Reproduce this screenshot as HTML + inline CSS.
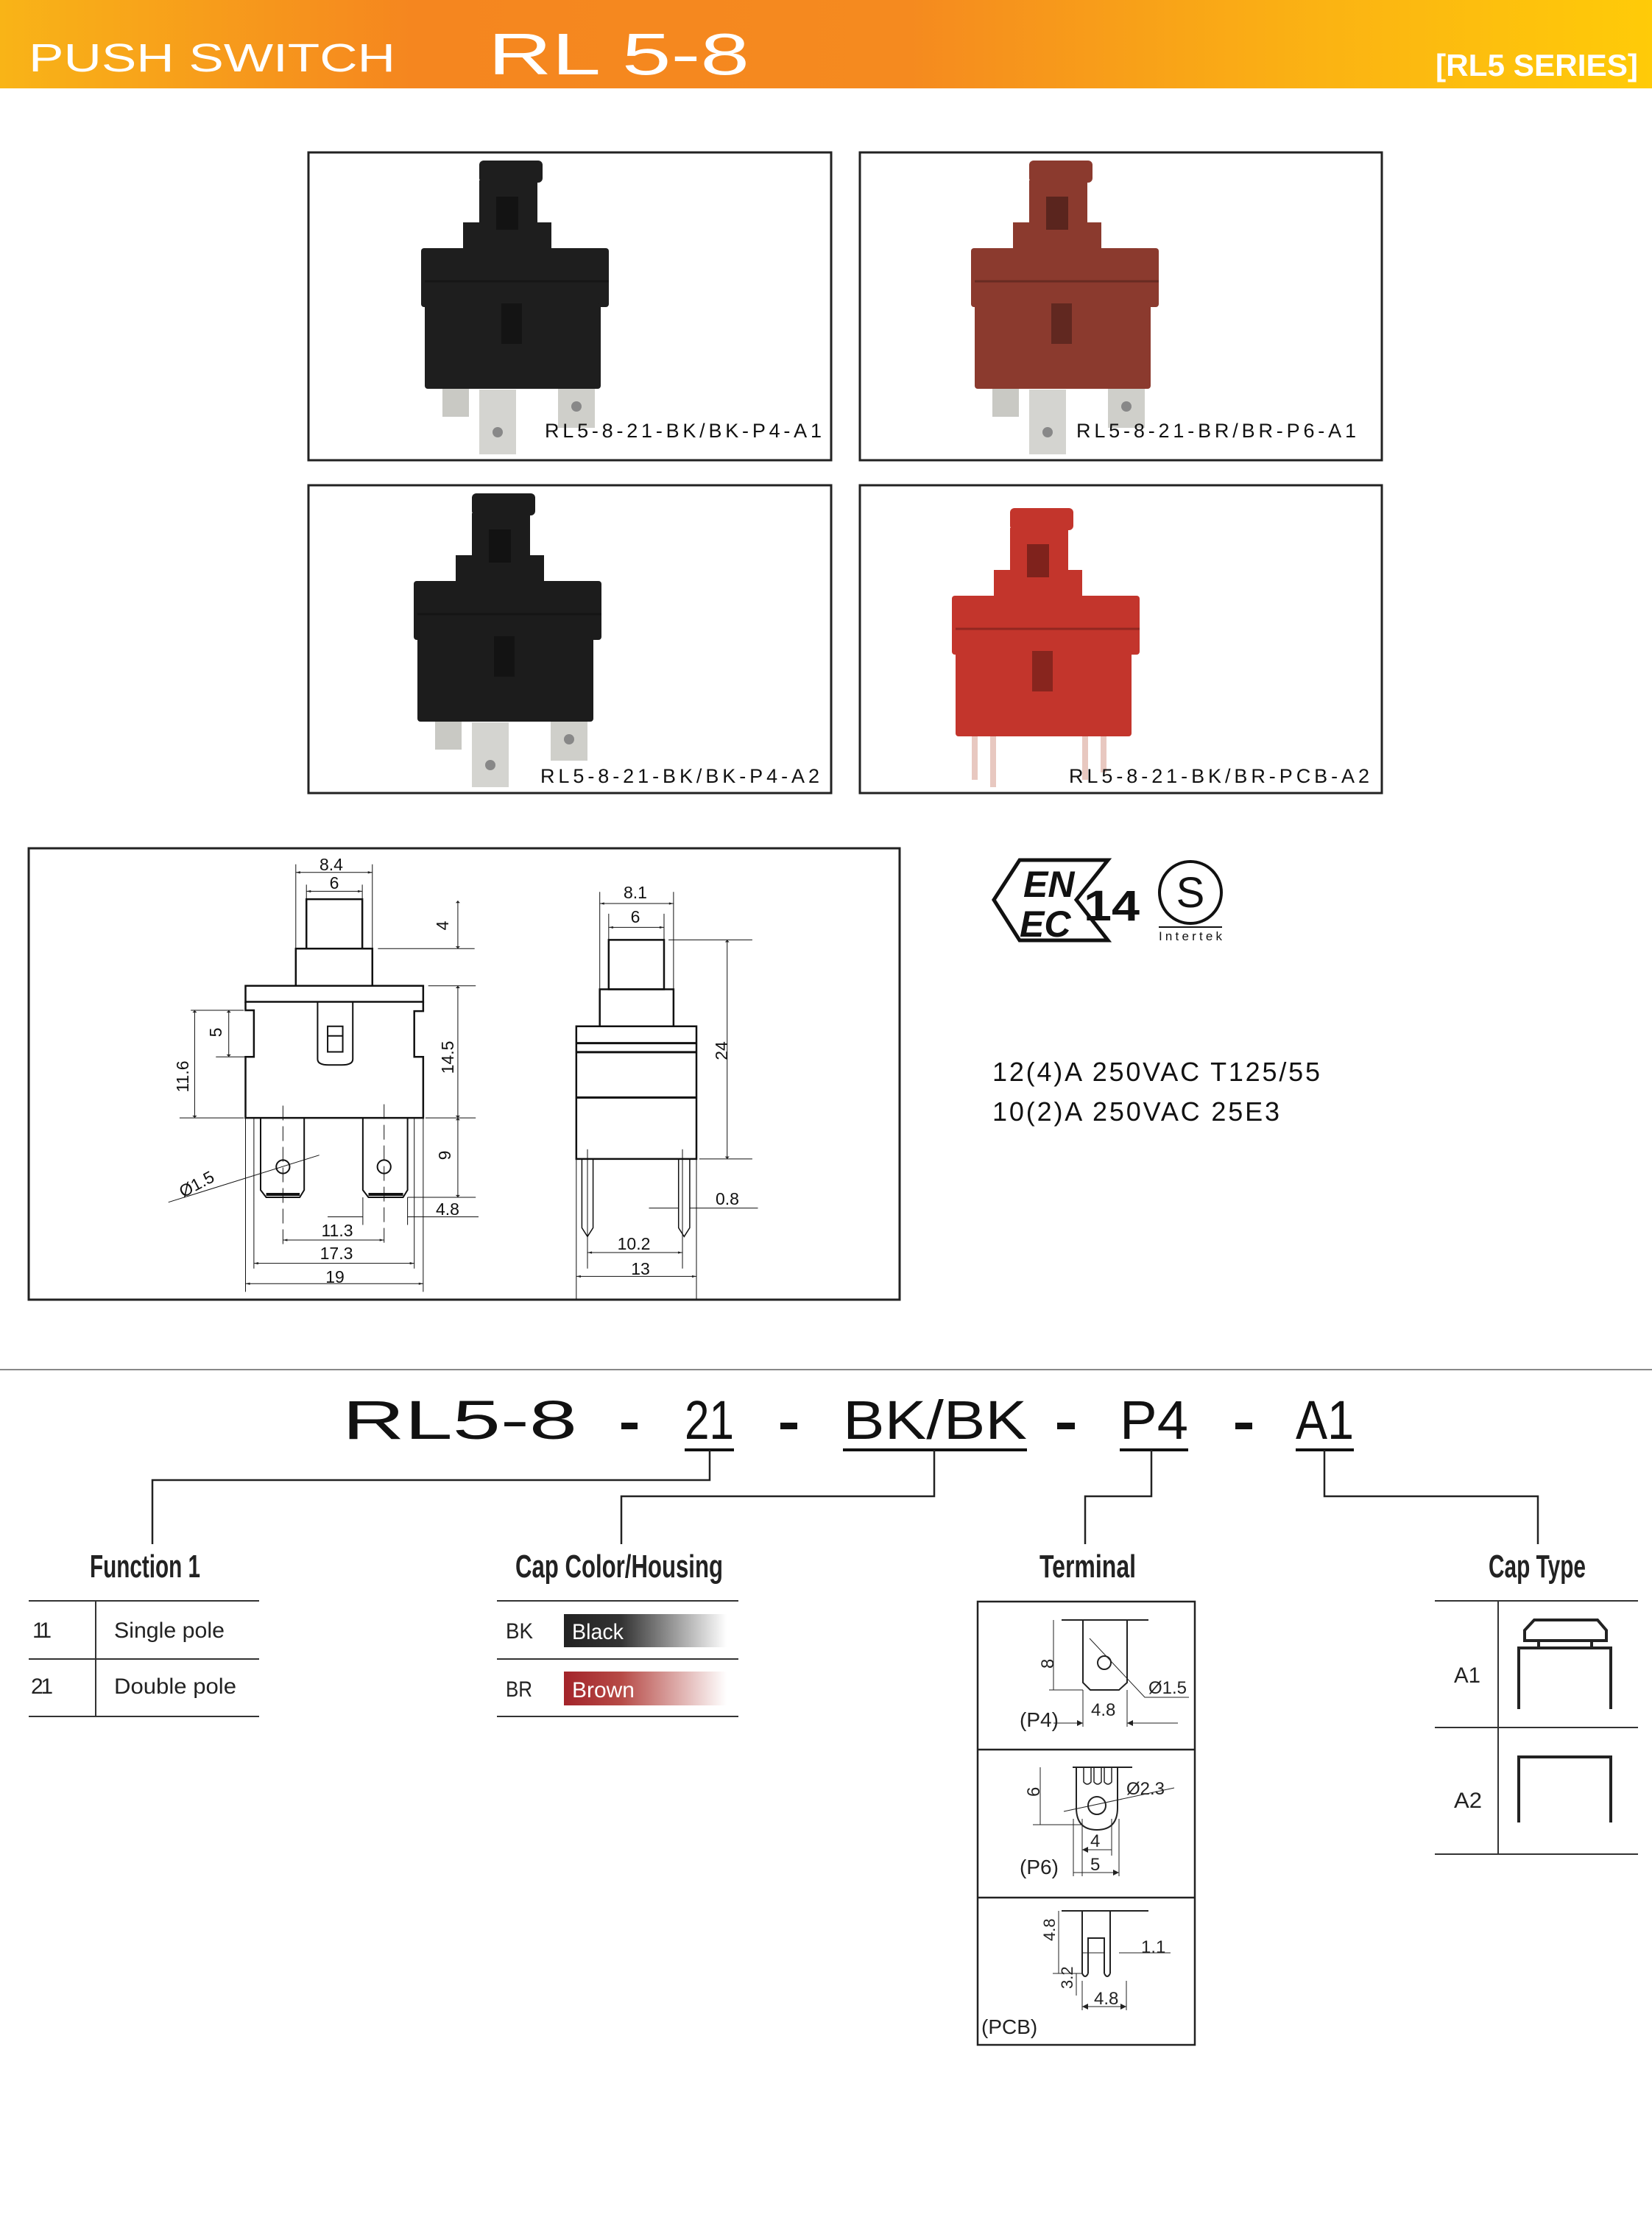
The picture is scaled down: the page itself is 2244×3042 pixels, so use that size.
<!DOCTYPE html>
<html><head><meta charset="utf-8"><style>
html,body{margin:0;padding:0;background:#fff}
svg{display:block}
text{font-family:"Liberation Sans",sans-serif}
.n{font-family:"Liberation Sans Narrow","Liberation Sans",sans-serif}
</style></head><body>
<svg width="2244" height="3042" viewBox="0 0 2244 3042" xmlns="http://www.w3.org/2000/svg">
<defs>
<linearGradient id="hg" x1="0" x2="1" y1="0" y2="0">
<stop offset="0" stop-color="#f9b417"/><stop offset="0.25" stop-color="#f5861f"/><stop offset="0.55" stop-color="#f58a1f"/><stop offset="0.8" stop-color="#fbb313"/><stop offset="1" stop-color="#ffcb08"/>
</linearGradient>
<linearGradient id="bk" x1="0" x2="1"><stop offset="0" stop-color="#222"/><stop offset="0.35" stop-color="#333"/><stop offset="1" stop-color="#fff"/></linearGradient>
<linearGradient id="br" x1="0" x2="1"><stop offset="0" stop-color="#a3242a"/><stop offset="0.35" stop-color="#b64a46"/><stop offset="1" stop-color="#fff"/></linearGradient>
<marker id="ar" viewBox="0 0 10 10" refX="10" refY="5" markerWidth="14" markerHeight="8" orient="auto-start-reverse" markerUnits="userSpaceOnUse"><path d="M0,0 L10,5 L0,10 z" fill="#222"/></marker>
<g id="sw">
 <rect x="232" y="11" width="86" height="30" rx="6"/>
 <rect x="232" y="38" width="79" height="92"/>
 <rect x="210" y="95" width="120" height="40"/>
 <rect x="153" y="130" width="255" height="80" rx="4"/>
 <rect x="158" y="205" width="239" height="116" rx="4"/>
 <rect x="255" y="60" width="30" height="45" fill="#000" opacity="0.35"/>
 <rect x="262" y="205" width="28" height="55" fill="#000" opacity="0.3"/>
 <line x1="158" y1="175" x2="408" y2="175" stroke="#000" stroke-opacity="0.25" stroke-width="3"/>
</g>
<g id="term">
 <rect x="182" y="305" width="36" height="54" fill="#c9c9c4"/>
 <rect x="232" y="322" width="50" height="88" fill="#d4d4d0"/>
 <rect x="339" y="298" width="50" height="76" fill="#cfcfca"/>
 <circle cx="257" cy="380" r="7" fill="#888"/>
 <circle cx="364" cy="345" r="7" fill="#888"/>
</g>
</defs>

<!-- header -->
<rect x="0" y="0" width="2244" height="120" fill="url(#hg)"/>
<text x="39" y="97" font-size="54" fill="#fff" textLength="498" lengthAdjust="spacingAndGlyphs">PUSH SWITCH</text>
<text x="663" y="101" font-size="80" fill="#fff" textLength="355" lengthAdjust="spacingAndGlyphs">RL 5-8</text>
<text x="1950" y="103" font-size="42" font-weight="bold" fill="#fff" class="n" textLength="275" lengthAdjust="spacingAndGlyphs">[RL5 SERIES]</text>

<!-- photo boxes -->
<g fill="none" stroke="#222" stroke-width="3">
<rect x="419" y="207" width="710" height="418"/>
<rect x="1168" y="207" width="709" height="418"/>
<rect x="419" y="659" width="710" height="418"/>
<rect x="1168" y="659" width="709" height="418"/>
</g>
<g transform="translate(419,207)"><use href="#term"/><use href="#sw" fill="#1e1e1e"/></g>
<g transform="translate(1385,207) translate(-219,0)"><use href="#term"/><use href="#sw" fill="#8b3a2e"/></g>
<g transform="translate(419,659) translate(-10,0)"><use href="#term"/><use href="#sw" fill="#1c1c1c"/></g>
<g transform="translate(1168,679) translate(-28,0)">
 <rect x="180" y="300" width="8" height="80" fill="#e8c8c0"/><rect x="205" y="300" width="8" height="90" fill="#e8c8c0"/>
 <rect x="330" y="300" width="8" height="80" fill="#e8c8c0"/><rect x="355" y="300" width="8" height="70" fill="#e8c8c0"/>
 <use href="#sw" fill="#c3352c"/></g>
<g font-size="27" fill="#111" class="n">
<text x="740" y="594" textLength="376" lengthAdjust="spacing">RL5-8-21-BK/BK-P4-A1</text>
<text x="1462" y="594" textLength="380" lengthAdjust="spacing">RL5-8-21-BR/BR-P6-A1</text>
<text x="734" y="1063" textLength="379" lengthAdjust="spacing">RL5-8-21-BK/BK-P4-A2</text>
<text x="1452" y="1063" textLength="408" lengthAdjust="spacing">RL5-8-21-BK/BR-PCB-A2</text>
</g>

<!-- drawing box -->
<rect x="39" y="1152" width="1183" height="613" fill="none" stroke="#222" stroke-width="3"/>
<g transform="translate(39,1150) scale(0.759,0.395)" fill="none" stroke="#111">
 <g stroke-width="4" vector-effect="non-scaling-stroke">
 <rect x="497" y="180" width="100" height="170" vector-effect="non-scaling-stroke" stroke-width="2.5"/>
 <rect x="478" y="350" width="137" height="128" vector-effect="non-scaling-stroke" stroke-width="2.5"/>
 <rect x="388" y="478" width="318" height="55" vector-effect="non-scaling-stroke" stroke-width="2.5"/>
 <path d="M388,533 V562 H403 V722 H388 V932 H706 V722 H690 V565 H706 V533" vector-effect="non-scaling-stroke" stroke-width="2.5"/>
 <path d="M517,533 V730 Q517,750 537,750 H560 Q580,750 580,730 V533" vector-effect="non-scaling-stroke" stroke-width="2"/>
 <rect x="535" y="617" width="27" height="88" vector-effect="non-scaling-stroke" stroke-width="2"/>
 <line x1="535" y1="650" x2="562" y2="650" vector-effect="non-scaling-stroke" stroke-width="2"/>
 <path d="M415,932 V1180 L425,1205 H485 L493,1180 V932" vector-effect="non-scaling-stroke" stroke-width="2"/>
 <path d="M598,932 V1180 L608,1205 H670 L678,1180 V932" vector-effect="non-scaling-stroke" stroke-width="2"/>
 <line x1="425" y1="1195" x2="485" y2="1195" vector-effect="non-scaling-stroke" stroke-width="4"/>
 <line x1="608" y1="1195" x2="670" y2="1195" vector-effect="non-scaling-stroke" stroke-width="4"/>
 <ellipse cx="455" cy="1100" rx="12" ry="23" vector-effect="non-scaling-stroke" stroke-width="2"/>
 <ellipse cx="636" cy="1100" rx="12" ry="23" vector-effect="non-scaling-stroke" stroke-width="2"/>
 <rect x="1038" y="320" width="99" height="170" vector-effect="non-scaling-stroke" stroke-width="2.5"/>
 <rect x="1022" y="490" width="132" height="127" vector-effect="non-scaling-stroke" stroke-width="2.5"/>
 <rect x="980" y="617" width="215" height="456" vector-effect="non-scaling-stroke" stroke-width="2.5"/>
 <path d="M980,675 H1195 M980,706 H1195 M980,862 H1195" vector-effect="non-scaling-stroke" stroke-width="3"/>
 <path d="M990,1073 V1310 L1000,1340 L1010,1310 V1073 M1163,1073 V1310 L1173,1340 L1183,1310 V1073" vector-effect="non-scaling-stroke" stroke-width="1.5"/>
 </g>
 <g stroke-width="1" vector-effect="non-scaling-stroke">
 <path d="M455,890 V1370 M636,885 V1370" stroke-dasharray="20 8" vector-effect="non-scaling-stroke"/>
 <path d="M478,60 V350 M615,60 V350 M497,130 V180 M597,130 V180 M625,350 H798 M715,478 H800 M710,932 H800 M678,1205 H800 M290,562 H385 M335,722 H400 M270,932 H385 M388,932 V1530 M706,932 V1530 M403,932 V1450 M690,932 V1450 M598,1205 V1300 M678,1205 V1300 M1022,155 V490 M1154,155 V490 M1038,230 V320 M1137,230 V320 M1145,320 H1295 M1200,1073 H1295 M980,1073 V1555 M1195,1073 V1555 M1000,1040 V1450 M1170,1040 V1450 M1000,1340 V1450 M250,1222 L520,1060" vector-effect="non-scaling-stroke"/>
 <g marker-start="url(#ar)" marker-end="url(#ar)">
 <line x1="478" y1="88" x2="615" y2="88" vector-effect="non-scaling-stroke"/>
 <line x1="497" y1="153" x2="597" y2="153" vector-effect="non-scaling-stroke"/>
 <line x1="768" y1="185" x2="768" y2="350" vector-effect="non-scaling-stroke"/>
 <line x1="768" y1="478" x2="768" y2="932" vector-effect="non-scaling-stroke"/>
 <line x1="768" y1="932" x2="768" y2="1205" vector-effect="non-scaling-stroke"/>
 <line x1="297" y1="562" x2="297" y2="932" vector-effect="non-scaling-stroke"/>
 <line x1="358" y1="562" x2="358" y2="722" vector-effect="non-scaling-stroke"/>
 <line x1="455" y1="1352" x2="636" y2="1352" vector-effect="non-scaling-stroke"/>
 <line x1="403" y1="1432" x2="690" y2="1432" vector-effect="non-scaling-stroke"/>
 <line x1="388" y1="1502" x2="706" y2="1502" vector-effect="non-scaling-stroke"/>
 <line x1="1022" y1="195" x2="1154" y2="195" vector-effect="non-scaling-stroke"/>
 <line x1="1038" y1="277" x2="1137" y2="277" vector-effect="non-scaling-stroke"/>
 <line x1="1250" y1="320" x2="1250" y2="1073" vector-effect="non-scaling-stroke"/>
 <line x1="1000" y1="1395" x2="1170" y2="1395" vector-effect="non-scaling-stroke"/>
 <line x1="980" y1="1477" x2="1195" y2="1477" vector-effect="non-scaling-stroke"/>
 </g>
 <path d="M535,1272 H598 M678,1272 H805 M1110,1242 H1163 M1183,1242 H1305" vector-effect="non-scaling-stroke"/>
 </g>
</g>
<g font-size="23" fill="#111" text-anchor="middle" dominant-baseline="central" class="n">
<text x="450" y="1174">8.4</text><text x="454" y="1199">6</text>
<text x="601" y="1257" transform="rotate(-90 601 1257)">4</text>
<text x="293" y="1402" transform="rotate(-90 293 1402)">5</text>
<text x="248" y="1462" transform="rotate(-90 248 1462)">11.6</text>
<text x="608" y="1436" transform="rotate(-90 608 1436)">14.5</text>
<text x="604" y="1569" transform="rotate(-90 604 1569)">9</text>
<text x="267" y="1608" transform="rotate(-28 267 1608)">Ø1.5</text>
<text x="608" y="1642">4.8</text><text x="458" y="1671">11.3</text><text x="457" y="1702">17.3</text><text x="455" y="1734">19</text>
<text x="863" y="1212">8.1</text><text x="863" y="1245">6</text>
<text x="980" y="1427" transform="rotate(-90 980 1427)">24</text>
<text x="988" y="1628">0.8</text><text x="861" y="1689">10.2</text><text x="870" y="1723">13</text>
</g>

<!-- cert logos -->
<polygon points="1385,1168 1505,1168 1462,1222 1505,1277 1385,1277 1350,1222" fill="none" stroke="#111" stroke-width="5"/>
<text x="1390" y="1218" font-size="50" font-weight="bold" font-style="italic" fill="#111">EN</text>
<text x="1385" y="1272" font-size="50" font-weight="bold" font-style="italic" fill="#111">EC</text>
<text x="1472" y="1250" font-size="58" font-weight="bold" fill="#111" textLength="76" lengthAdjust="spacingAndGlyphs">14</text>
<circle cx="1617" cy="1212" r="42" fill="none" stroke="#111" stroke-width="4"/>
<text x="1617" y="1232" font-size="58" text-anchor="middle" fill="#111">S</text>
<line x1="1574" y1="1259" x2="1660" y2="1259" stroke="#111" stroke-width="2"/>
<text x="1574" y="1277" font-size="17" fill="#111" textLength="86" lengthAdjust="spacing">Intertek</text>
<text x="1348" y="1468" font-size="36" fill="#111" textLength="445" lengthAdjust="spacing">12(4)A  250VAC  T125/55</text>
<text x="1348" y="1522" font-size="36" fill="#111" textLength="390" lengthAdjust="spacing">10(2)A  250VAC  25E3</text>

<!-- divider -->
<line x1="0" y1="1860" x2="2244" y2="1860" stroke="#888" stroke-width="2"/>

<!-- code line -->
<g fill="#111">
<text x="465" y="1954" font-size="74" textLength="319" lengthAdjust="spacingAndGlyphs">RL5-8</text>
<text x="930" y="1954" font-size="74" textLength="67" lengthAdjust="spacingAndGlyphs">21</text>
<text x="1145" y="1954" font-size="74" textLength="250" lengthAdjust="spacingAndGlyphs">BK/BK</text>
<text x="1521" y="1954" font-size="74" textLength="93" lengthAdjust="spacingAndGlyphs">P4</text>
<text x="1760" y="1954" font-size="74" textLength="79" lengthAdjust="spacingAndGlyphs">A1</text>
<rect x="844" y="1932" width="22" height="9"/><rect x="1060" y="1932" width="23" height="9"/>
<rect x="1436" y="1932" width="24" height="9"/><rect x="1678" y="1932" width="23" height="9"/>
<rect x="930" y="1967" width="67" height="4"/><rect x="1145" y="1967" width="250" height="4"/>
<rect x="1521" y="1967" width="93" height="4"/><rect x="1760" y="1967" width="79" height="4"/>
</g>
<g fill="none" stroke="#222" stroke-width="2.5">
<path d="M964,1969 V2010 H207 V2097"/>
<path d="M1269,1969 V2032 H844 V2097"/>
<path d="M1564,1969 V2032 H1474 V2097"/>
<path d="M1799,1969 V2032 H2089 V2097"/>
</g>

<!-- headings -->
<g font-size="44" font-weight="bold" fill="#222" class="n">
<text x="122" y="2142" textLength="150" lengthAdjust="spacingAndGlyphs">Function 1</text>
<text x="700" y="2142" textLength="282" lengthAdjust="spacingAndGlyphs">Cap Color/Housing</text>
<text x="1412" y="2142" textLength="131" lengthAdjust="spacingAndGlyphs">Terminal</text>
<text x="2022" y="2142" textLength="132" lengthAdjust="spacingAndGlyphs">Cap Type</text>
</g>

<!-- function table -->
<g stroke="#333" stroke-width="2">
<line x1="39" y1="2174" x2="352" y2="2174"/><line x1="39" y1="2253" x2="352" y2="2253"/><line x1="39" y1="2331" x2="352" y2="2331"/>
<line x1="130" y1="2174" x2="130" y2="2331"/>
<line x1="675" y1="2174" x2="1003" y2="2174"/><line x1="675" y1="2253" x2="1003" y2="2253"/><line x1="675" y1="2331" x2="1003" y2="2331"/>
<line x1="1949" y1="2174" x2="2225" y2="2174"/><line x1="1949" y1="2346" x2="2225" y2="2346"/><line x1="1949" y1="2518" x2="2225" y2="2518"/>
<line x1="2035" y1="2174" x2="2035" y2="2518"/>
</g>
<g font-size="30" fill="#222" class="n">
<text x="44" y="2224" textLength="26" lengthAdjust="spacing">11</text>
<text x="155" y="2224" textLength="150" lengthAdjust="spacingAndGlyphs">Single pole</text>
<text x="42" y="2300" textLength="30" lengthAdjust="spacing">21</text>
<text x="155" y="2300" textLength="166" lengthAdjust="spacingAndGlyphs">Double pole</text>
<text x="687" y="2225" textLength="37" lengthAdjust="spacingAndGlyphs">BK</text>
<text x="687" y="2304" textLength="36" lengthAdjust="spacingAndGlyphs">BR</text>
<text x="1975" y="2285" textLength="36" lengthAdjust="spacingAndGlyphs">A1</text>
<text x="1975" y="2455" textLength="38" lengthAdjust="spacingAndGlyphs">A2</text>
</g>
<rect x="766" y="2192" width="221" height="45" fill="url(#bk)"/>
<rect x="766" y="2270" width="221" height="46" fill="url(#br)"/>
<text x="777" y="2226" font-size="30" fill="#fff" class="n" textLength="70" lengthAdjust="spacingAndGlyphs">Black</text>
<text x="777" y="2305" font-size="30" fill="#fff" class="n" textLength="85" lengthAdjust="spacingAndGlyphs">Brown</text>

<!-- cap type icons -->
<g fill="none" stroke="#222" stroke-width="4">
<path d="M2071,2228 V2214 L2084,2200 H2170 L2182,2214 V2228 Z"/>
<path d="M2090,2228 V2238 M2162,2228 V2238"/>
<path d="M2063,2321 V2238 H2188 V2321"/>
<path d="M2063,2475 V2386 H2188 V2475"/>
</g>

<!-- terminal box -->
<g fill="none" stroke="#222" stroke-width="2.5">
<rect x="1328" y="2175" width="295" height="602"/>
<line x1="1328" y1="2376" x2="1623" y2="2376"/><line x1="1328" y1="2577" x2="1623" y2="2577"/>
</g>
<g fill="none" stroke="#222" stroke-width="2">
<path d="M1442,2200 H1560"/>
<path d="M1471,2200 V2285 L1481,2295 H1520 L1531,2285 V2200"/>
<circle cx="1500" cy="2258" r="9"/>
<path d="M1431,2200 V2295 M1425,2295 H1471 M1480,2225 L1555,2305 H1615" stroke-width="1"/>
<path d="M1471,2295 V2345 M1531,2295 V2345" stroke-width="1"/>
<line x1="1431" y1="2340" x2="1471" y2="2340" stroke-width="1" marker-end="url(#ar)"/>
<line x1="1600" y1="2340" x2="1531" y2="2340" stroke-width="1" marker-end="url(#ar)"/>
<path d="M1457,2400 H1538"/>
<path d="M1462,2400 V2455 Q1462,2485 1490,2485 Q1518,2485 1518,2455 V2400"/>
<path d="M1472,2400 V2420 Q1477,2426 1482,2420 V2400 M1486,2400 V2420 Q1491,2426 1496,2420 V2400 M1500,2400 V2420 Q1505,2426 1510,2420 V2400" stroke-width="1.5"/>
<circle cx="1490" cy="2452" r="12"/>
<path d="M1403,2478 H1470 M1413,2400 V2478 M1470,2470 V2548 M1510,2470 V2520 M1458,2470 V2548 M1520,2470 V2548 M1445,2460 L1595,2428" stroke-width="1"/>
<path d="M1470,2512 H1510 M1458,2543 H1520" stroke-width="1" marker-start="url(#ar)" marker-end="url(#ar)"/>
<path d="M1442,2595 H1560"/>
<path d="M1470,2595 V2680 M1478,2680 V2632 H1500 V2680 M1508,2680 V2595"/>
<path d="M1470,2680 Q1474,2688 1478,2680 M1500,2680 Q1504,2688 1508,2680"/>
<path d="M1438,2595 V2680 M1430,2680 H1470 M1462,2680 V2710 M1470,2690 V2730 M1530,2690 V2730 M1520,2652 H1590 M1500,2652 H1470" stroke-width="1"/>
<path d="M1470,2725 H1530" stroke-width="1" marker-start="url(#ar)" marker-end="url(#ar)"/>
</g>
<g font-size="28" fill="#222" class="n">
<text x="1385" y="2345">(P4)</text>
<text x="1482" y="2330" font-size="24">4.8</text>
<text x="1560" y="2300" font-size="24">Ø1.5</text>
<text x="1425" y="2272" font-size="24" transform="rotate(-90 1425 2266)">8</text>
<text x="1385" y="2545">(P6)</text>
<text x="1530" y="2437" font-size="24">Ø2.3</text>
<text x="1406" y="2446" font-size="24" transform="rotate(-90 1406 2440)">6</text>
<text x="1481" y="2508" font-size="24">4</text>
<text x="1481" y="2540" font-size="24">5</text>
<text x="1333" y="2762">(PCB)</text>
<text x="1550" y="2652" font-size="24">1.1</text>
<text x="1486" y="2722" font-size="24">4.8</text>
<text x="1425" y="2644" font-size="22" transform="rotate(-90 1425 2636)">4.8</text>
<text x="1449" y="2709" font-size="22" transform="rotate(-90 1449 2701)">3.2</text>
</g>
</svg>
</body></html>
